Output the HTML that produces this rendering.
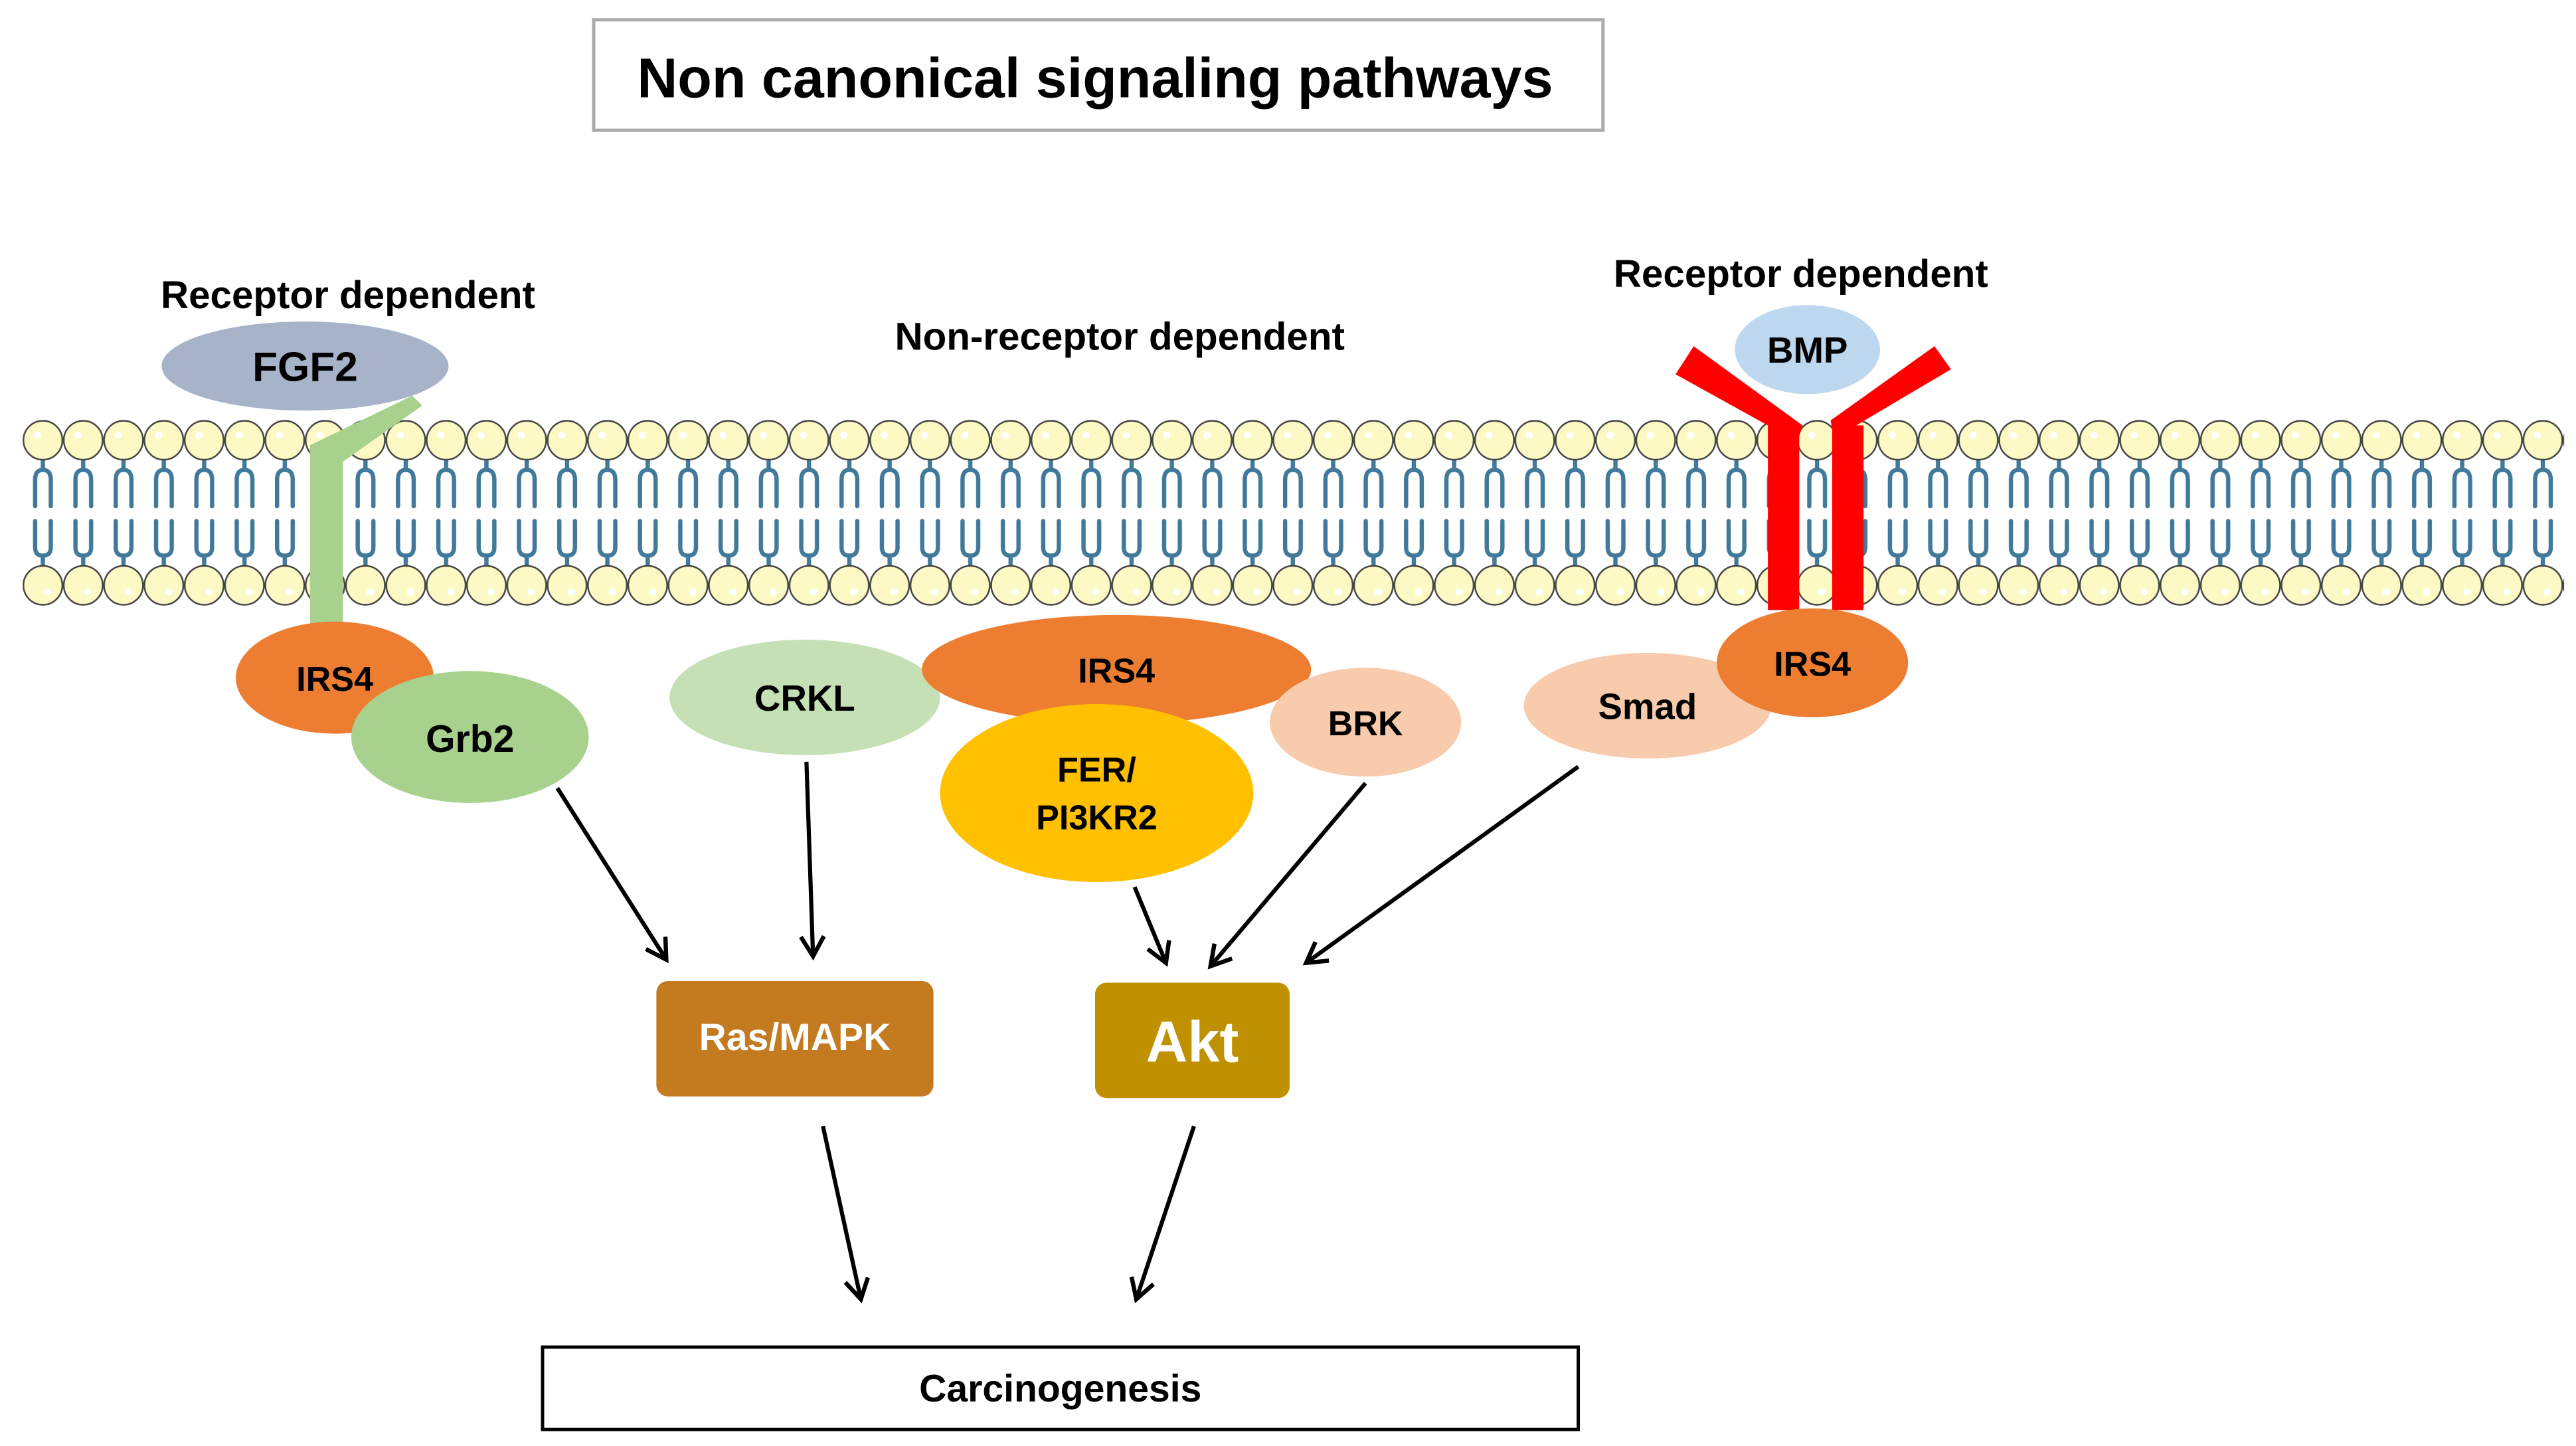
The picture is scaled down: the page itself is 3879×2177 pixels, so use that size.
<!DOCTYPE html>
<html><head><meta charset="utf-8"><style>
html,body{margin:0;padding:0;background:#fff}
svg{display:block}
text{font-family:"Liberation Sans",sans-serif;font-weight:bold;text-anchor:middle}
</style></head><body>
<svg width="3879" height="2177" viewBox="0 0 1562 877" preserveAspectRatio="none" xmlns="http://www.w3.org/2000/svg">
<defs>
<pattern id="mem" patternUnits="userSpaceOnUse" x="13.8" y="252" width="24.45" height="120">
<g stroke="#41799a" stroke-width="2.6" fill="none" stroke-linecap="round">
<path d="M12.2 27 V33 M7.5 55 V39 Q7.5 33 12.2 33 Q17 33 17 39 V55"/>
<path d="M7.5 64 V80 Q7.5 85 12.2 85 Q17 85 17 80 V64 M12.2 85 V91"/>
</g>
<circle cx="12.2" cy="15" r="11.8" fill="#fdf9c4" stroke="#444" stroke-width="1"/>
<circle cx="9" cy="12" r="2.2" fill="#fff"/>
<circle cx="12.2" cy="103" r="11.8" fill="#fdf9c4" stroke="#444" stroke-width="1"/>
<circle cx="15" cy="107" r="2.2" fill="#fff"/>
</pattern>
<marker id="ah" markerWidth="20" markerHeight="20" refX="13" refY="8" orient="auto" markerUnits="userSpaceOnUse">
<path d="M1 1 L13 8 L1 15" fill="none" stroke="#000" stroke-width="2.6"/>
</marker>
</defs>

<rect x="360" y="12" width="612" height="67" fill="#fff" stroke="#aaa" stroke-width="2"/>
<text x="664" y="59" font-size="34">Non canonical signaling pathways</text>

<text x="211" y="187" font-size="23.5">Receptor dependent</text>
<text x="679" y="212" font-size="23.5">Non-receptor dependent</text>
<text x="1092" y="174" font-size="23.5">Receptor dependent</text>

<rect x="13.8" y="252" width="1541" height="120" fill="url(#mem)"/>

<!-- FGF2 receptor -->
<ellipse cx="185" cy="222" rx="87" ry="27" fill="#a6b3c9"/>
<text x="185" y="231" font-size="25">FGF2</text>
<polygon points="188,270 250,240 256,246 208,280 208,385 188,385" fill="#a9d18e"/>

<!-- BMP receptor -->
<ellipse cx="1096" cy="212" rx="44" ry="27" fill="#bdd7ee"/>
<text x="1096" y="220" font-size="22">BMP</text>
<g fill="#ff0000">
<polygon points="1016,227 1027,210 1093,258 1090,268"/>
<rect x="1072" y="258" width="19" height="112"/>
<polygon points="1183,224 1173,210 1110,255 1112,266"/>
<rect x="1111" y="258" width="19" height="112"/>
</g>

<!-- proteins -->
<ellipse cx="203" cy="411" rx="60" ry="34" fill="#ed7d31"/>
<text x="203" y="419" font-size="21">IRS4</text>
<ellipse cx="285" cy="447" rx="72" ry="40" fill="#a9d18e"/>
<text x="285" y="456" font-size="23">Grb2</text>
<ellipse cx="488" cy="423" rx="82" ry="35" fill="#c5e0b4"/>
<text x="488" y="431" font-size="22">CRKL</text>
<ellipse cx="677" cy="406" rx="118" ry="33" fill="#ed7d31"/>
<text x="677" y="414" font-size="21">IRS4</text>
<ellipse cx="665" cy="481" rx="95" ry="54" fill="#ffc000"/>
<text x="665" y="474" font-size="21">FER/</text>
<text x="665" y="503" font-size="21">PI3KR2</text>
<ellipse cx="828" cy="438" rx="58" ry="33" fill="#f8cbad"/>
<text x="828" y="446" font-size="21">BRK</text>
<ellipse cx="999" cy="428" rx="75" ry="32" fill="#f8cbad"/>
<text x="999" y="436" font-size="22">Smad</text>
<ellipse cx="1099" cy="402" rx="58" ry="33" fill="#ed7d31"/>
<text x="1099" y="410" font-size="21">IRS4</text>

<!-- boxes -->
<rect x="398" y="595" width="168" height="70" rx="7" fill="#c47a1e"/>
<text x="482" y="637" font-size="23" fill="#fff">Ras/MAPK</text>
<rect x="664" y="596" width="118" height="70" rx="7" fill="#bf9000"/>
<text x="723" y="644" font-size="35" fill="#fff">Akt</text>
<rect x="329" y="817" width="628" height="50" fill="#fff" stroke="#000" stroke-width="2"/>
<text x="643" y="850" font-size="23">Carcinogenesis</text>

<!-- arrows -->
<g stroke="#000" stroke-width="2.5" fill="none" marker-end="url(#ah)">
<line x1="338" y1="478" x2="404" y2="582"/>
<line x1="489" y1="462" x2="493" y2="580"/>
<line x1="688" y1="538" x2="707" y2="584"/>
<line x1="828" y1="475" x2="734" y2="586"/>
<line x1="957" y1="465" x2="792" y2="584"/>
<line x1="499" y1="683" x2="522" y2="788"/>
<line x1="724" y1="683" x2="689" y2="788"/>
</g>
</svg>
</body></html>
